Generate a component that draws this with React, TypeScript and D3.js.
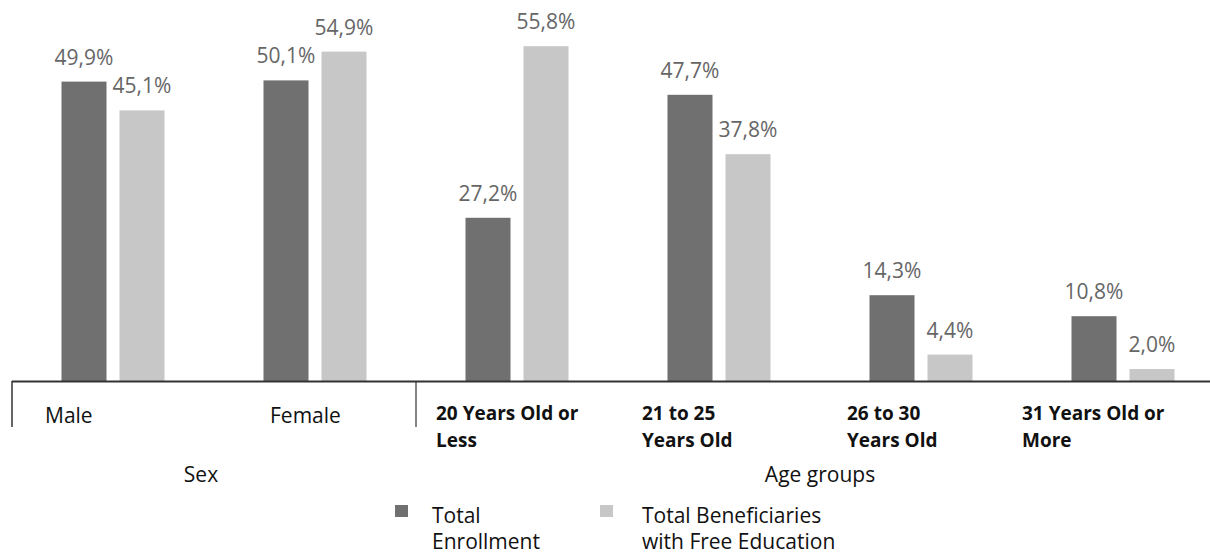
import React from "react";
import * as d3 from "d3";

// Categories (first two under "Sex", the rest under "Age groups")
const categories = [
  "Male",
  "Female",
  "20 Years Old or Less",
  "21 to 25 Years Old",
  "26 to 30 Years Old",
  "31 Years Old or More",
];
const categoryLines = [
  ["Male"],
  ["Female"],
  ["20 Years Old or", "Less"],
  ["21 to 25", "Years Old"],
  ["26 to 30", "Years Old"],
  ["31 Years Old or", "More"],
];
const categoryBold = [false, false, true, true, true, true];

const seriesNames = ["Total Enrollment", "Total Beneficiaries with Free Education"];
const legendLines = [
  ["Total", "Enrollment"],
  ["Total Beneficiaries", "with Free Education"],
];
const totalEnrollment = [49.9, 50.1, 27.2, 47.7, 14.3, 10.8];
const freeEducation = [45.1, 54.9, 55.8, 37.8, 4.4, 2.0];

const groups = [
  { name: "Sex", from: 0, to: 1 },
  { name: "Age groups", from: 2, to: 5 },
];

// Layout
const W = 1210;
const H = 554;
const baseline = 381;
const axisLeft = 12;
const axisRight = 1224;
const colors = ["#707070", "#c7c7c7"];
const font = "'Open Sans', 'DejaVu Sans', sans-serif";
// left inset of each category label inside its band
const labelInset = [33, 56, 20, 24, 27, 0];
const groupLabelShift = [-13, 0];

const fmt = (v: number) => v.toFixed(1).replace(".", ",") + "%";

export default function App() {
  const x = d3.scaleBand<string>().domain(categories).range([axisLeft, axisRight]);
  const inner = d3
    .scaleBand<string>()
    .domain(seriesNames)
    .range([49.5, 152.5])
    .paddingInner(0.224);
  const y = d3.scaleLinear().domain([0, 60]).range([baseline, baseline - 360]);
  const series = [totalEnrollment, freeEducation];

  return (
    <svg
      width={W}
      height={H}
      style={{ position: "absolute", left: 0, top: 0, background: "#fff" }}
      fontFamily={font}
    >
      <rect width={W} height={H} fill="#fff" />
      {/* bars and value labels */}
      {categories.map((c, i) => (
        <g key={c} transform={`translate(${x(c)},0)`}>
          {seriesNames.map((s, j) => {
            const v = series[j][i];
            const bx = inner(s)!;
            const bw = inner.bandwidth();
            return (
              <g key={s}>
                <rect x={bx} y={y(v)} width={bw} height={baseline - y(v)} fill={colors[j]} />
                <text
                  x={bx + bw / 2}
                  y={y(v) - 17}
                  textAnchor="middle"
                  fontSize={21}
                  fill="#666"
                >
                  {fmt(v)}
                </text>
              </g>
            );
          })}
        </g>
      ))}

      {/* axis line and group separators */}
      <line x1={axisLeft} x2={axisRight} y1={baseline + 0.5} y2={baseline + 0.5} stroke="#333" strokeWidth={2} />
      <line x1={axisLeft} x2={axisLeft} y1={baseline} y2={427} stroke="#333" strokeWidth={1.5} />
      {groups.slice(1).map((g) => (
        <line
          key={g.name}
          x1={x(categories[g.from])!}
          x2={x(categories[g.from])!}
          y1={baseline}
          y2={427}
          stroke="#333"
          strokeWidth={1.2}
        />
      ))}

      {/* category labels */}
      {categories.map((c, i) => (
        <text
          key={c}
          x={x(c)! + labelInset[i]}
          y={categoryBold[i] ? 420 : 423}
          fontSize={categoryBold[i] ? 19 : 21}
          fontWeight={categoryBold[i] ? 700 : 400}
          fill="#111"
        >
          {categoryLines[i].map((line, k) => (
            <tspan key={k} x={x(c)! + labelInset[i]} dy={k === 0 ? 0 : 27}>
              {line}
            </tspan>
          ))}
        </text>
      ))}

      {/* group labels */}
      {groups.map((g, gi) => {
        const x0 = x(categories[g.from])!;
        const x1 = x(categories[g.to])! + x.bandwidth();
        return (
          <text
            key={g.name}
            x={(x0 + x1) / 2 + groupLabelShift[gi]}
            y={482}
            textAnchor="middle"
            fontSize={21}
            fill="#111"
          >
            {g.name}
          </text>
        );
      })}

      {/* legend */}
      {seriesNames.map((s, j) => {
        const lx = j === 0 ? 395 : 600;
        return (
          <g key={s} transform={`translate(${lx},505)`}>
            <rect width={13} height={12} fill={colors[j]} />
            <text x={j === 0 ? 37 : 42} y={18} fontSize={21} fill="#111">
              {legendLines[j].map((line, k) => (
                <tspan key={k} x={j === 0 ? 37 : 42} dy={k === 0 ? 0 : 26}>
                  {line}
                </tspan>
              ))}
            </text>
          </g>
        );
      })}
    </svg>
  );
}
